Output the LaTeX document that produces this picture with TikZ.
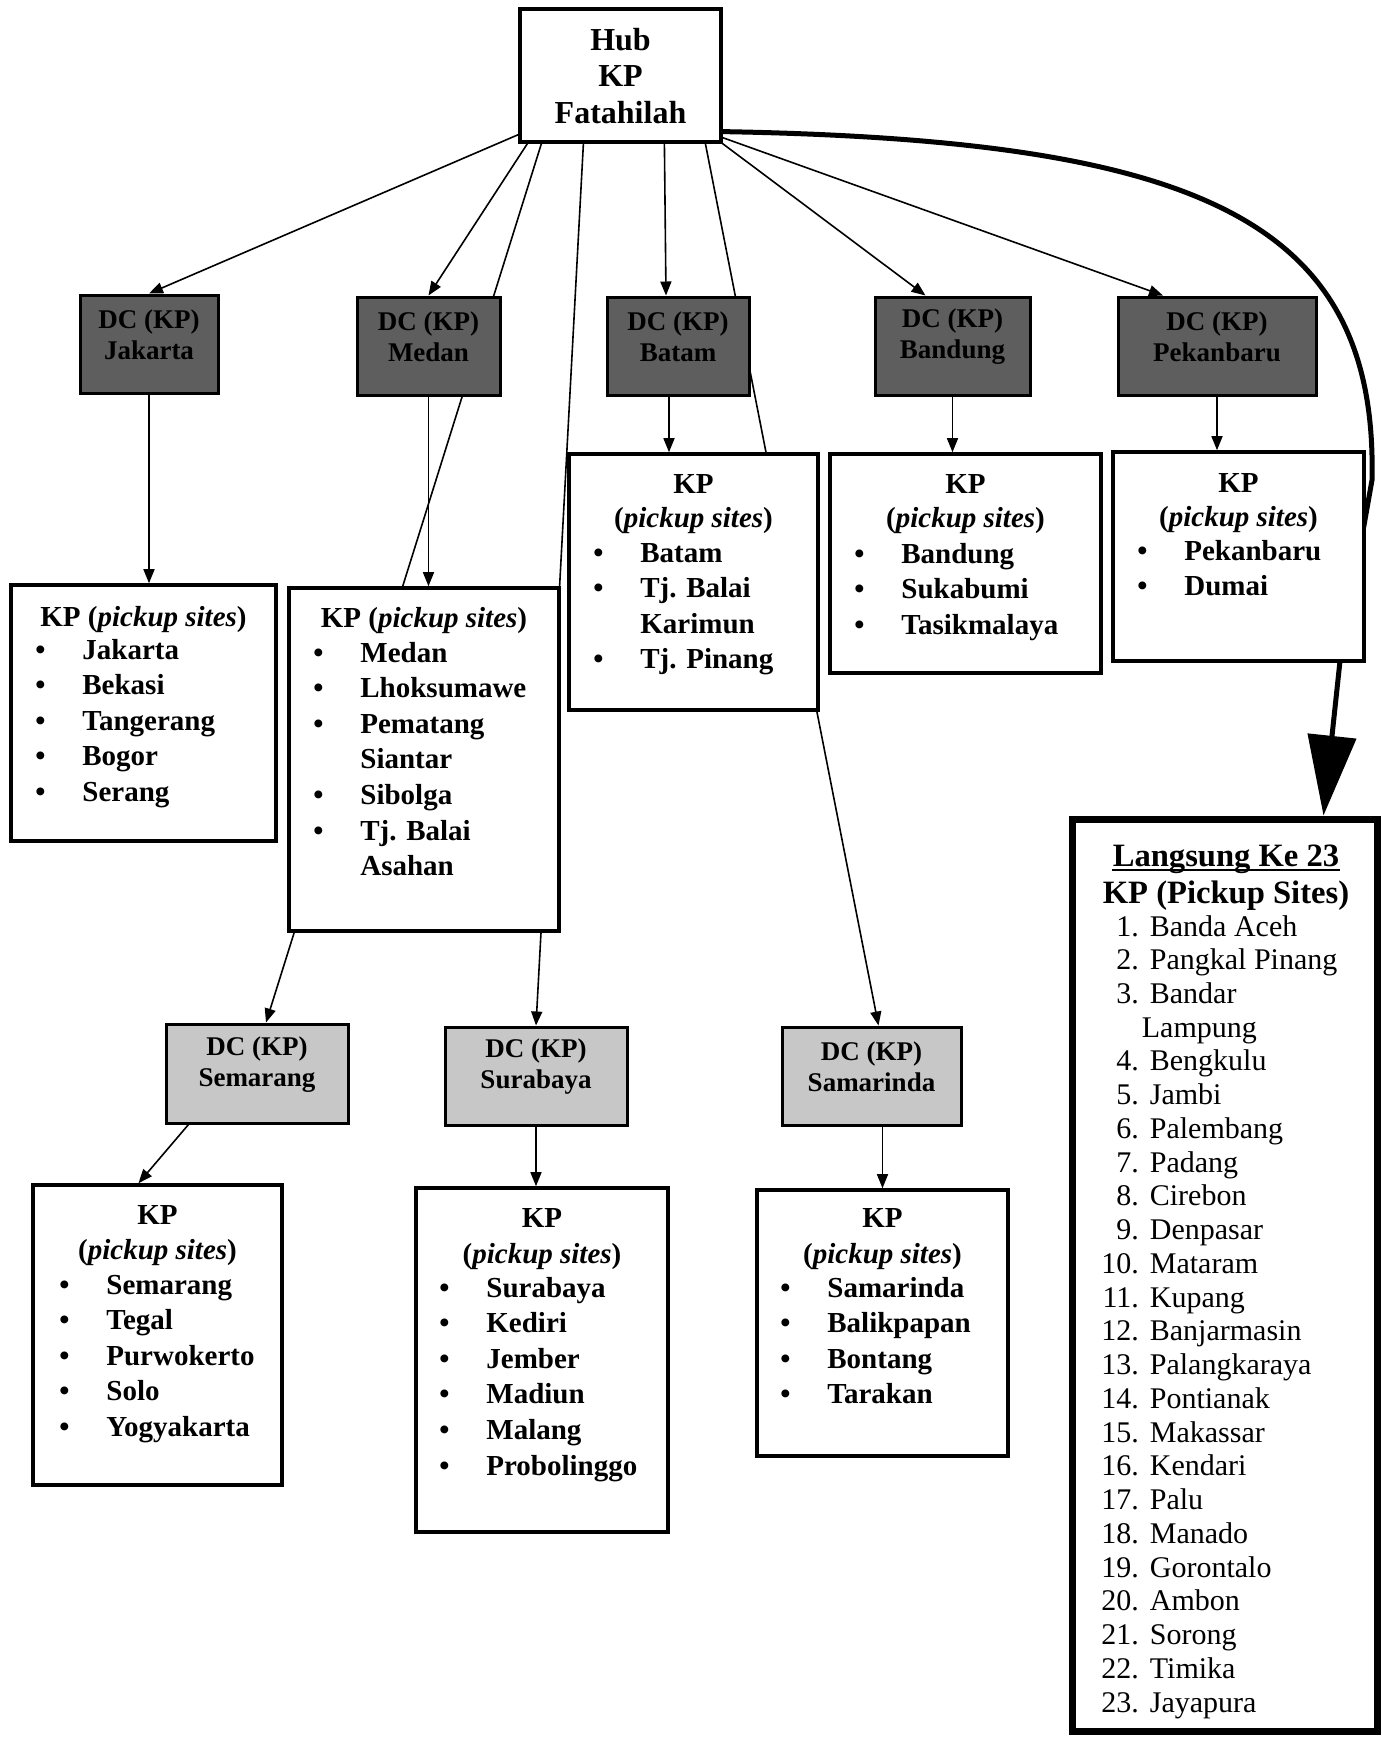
\documentclass[tikz,border=0pt]{standalone}
\usepackage{fontspec}
\setmainfont{Liberation Serif}
\usetikzlibrary{arrows.meta,calc,fit}
\pgfdeclarelayer{background}
\pgfsetlayers{background,main}

% bulleted list of pickup sites: bullet column, then the site name
\newcommand{\sitelist}[1]{\begin{tabular}[t]{@{}p{23.5pt}@{}l@{}}#1\end{tabular}}

\tikzset{
  every node/.style={inner sep=0pt},
  kpframe/.style={draw, line width=1.8pt, fill=white},
  hubbox/.style={draw, line width=1.6pt, fill=white},
  hubtext/.style={anchor=base, font=\fontsize{16}{18.3}\selectfont\bfseries},
  dcbase/.style={draw, line width=1.5pt, align=center,
    font=\fontsize{13.5}{15.5}\selectfont\bfseries},
  dcdark/.style={dcbase, fill=black!63},
  dclight/.style={dcbase, fill=black!22},
  head/.style={anchor=base, font=\fontsize{14.5}{17.8}\selectfont\bfseries},
  sites/.style={anchor=base west, font=\fontsize{14.5}{17.8}\selectfont\bfseries},
  lhead/.style={anchor=base, font=\fontsize{16.3}{18.3}\selectfont\bfseries},
  dlist/.style={anchor=base west, font=\fontsize{15}{16.87}\selectfont},
  conn/.style={line width=0.8pt, -{Triangle[length=7pt,width=5.5pt]}},
  bigflow/.style={line width=2.5pt, -{Triangle[length=40pt,width=24pt]}},
}

\begin{document}
\begin{tikzpicture}[x=0.5pt,y=-0.5pt]
\useasboundingbox (0,0) rectangle (1382,1737);

% ---- hub ----
\node[hubbox, fit={(520,9) (721,142)}] (hub) {};
\node[hubtext] (hub-t) at (620.5,50)
  {\begin{tabular}[t]{@{}c@{}}Hub\\KP\\Fatahilah\end{tabular}};

% ---- distribution centres, first tier ----
\node[dcdark, fit={(80,295) (218,393)}] (dcjkt) {DC (KP)\\Jakarta};
\node[dcdark, fit={(357,297) (500,395)}] (dcmdn) {DC (KP)\\Medan};
\node[dcdark, fit={(607,297) (749,395)}] (dcbtm) {DC (KP)\\Batam};
\node[dcdark, fit={(875,297) (1030,395)}] (dcbdg) {DC (KP)\\Bandung};
\node[dcdark, fit={(1118,297) (1316,395)}] (dcpku) {DC (KP)\\Pekanbaru};

% ---- distribution centres, second tier ----
\node[dclight, fit={(166,1024) (348,1123)}] (dcsmg) {DC (KP)\\Semarang};
\node[dclight, fit={(445,1027) (627,1125)}] (dcsby) {DC (KP)\\Surabaya};
\node[dclight, fit={(782,1027) (961,1125)}] (dcsmr) {DC (KP)\\Samarinda};

% ---- pickup-site boxes ----
\node[kpframe, fit={(11,585) (276,841)}] (kpjkt) {};
\node[head] (kpjkt-h) at (143.5,626) {KP (\textit{pickup sites})};
\node[sites] (kpjkt-l) at (35,659) {\sitelist{%
  \textbullet & Jakarta\\ \textbullet & Bekasi\\ \textbullet & Tangerang\\
  \textbullet & Bogor\\ \textbullet & Serang}};

\node[kpframe, fit={(289,588) (559,931)}] (kpmdn) {};
\node[head] (kpmdn-h) at (424,627) {KP (\textit{pickup sites})};
\node[sites] (kpmdn-l) at (313,662) {\sitelist{%
  \textbullet & Medan\\ \textbullet & Lhoksumawe\\ \textbullet & Pematang\\
  & Siantar\\ \textbullet & Sibolga\\ \textbullet & Tj. Balai\\ & Asahan}};

\node[kpframe, fit={(569,454) (818,710)}] (kpbtm) {};
\node[head] (kpbtm-h1) at (693.5,493) {KP};
\node[head] (kpbtm-h2) at (693.5,527) {(\textit{pickup sites})};
\node[sites] (kpbtm-l) at (593,562) {\sitelist{%
  \textbullet & Batam\\ \textbullet & Tj. Balai\\ & Karimun\\ \textbullet & Tj. Pinang}};

\node[kpframe, fit={(830,454) (1101,673)}] (kpbdg) {};
\node[head] (kpbdg-h1) at (965.5,493) {KP};
\node[head] (kpbdg-h2) at (965.5,527) {(\textit{pickup sites})};
\node[sites] (kpbdg-l) at (854,563) {\sitelist{%
  \textbullet & Bandung\\ \textbullet & Sukabumi\\ \textbullet & Tasikmalaya}};

\node[kpframe, fit={(1113,452) (1364,661)}] (kppku) {};
\node[head] (kppku-h1) at (1238.5,492) {KP};
\node[head] (kppku-h2) at (1238.5,526) {(\textit{pickup sites})};
\node[sites] (kppku-l) at (1137,560) {\sitelist{%
  \textbullet & Pekanbaru\\ \textbullet & Dumai}};

\node[kpframe, fit={(33,1185) (282,1485)}] (kpsmg) {};
\node[head] (kpsmg-h1) at (157.5,1224) {KP};
\node[head] (kpsmg-h2) at (157.5,1259) {(\textit{pickup sites})};
\node[sites] (kpsmg-l) at (59,1294) {\sitelist{%
  \textbullet & Semarang\\ \textbullet & Tegal\\ \textbullet & Purwokerto\\
  \textbullet & Solo\\ \textbullet & Yogyakarta}};

\node[kpframe, fit={(416,1188) (668,1532)}] (kpsby) {};
\node[head] (kpsby-h1) at (542,1227) {KP};
\node[head] (kpsby-h2) at (542,1263) {(\textit{pickup sites})};
\node[sites] (kpsby-l) at (439,1297) {\sitelist{%
  \textbullet & Surabaya\\ \textbullet & Kediri\\ \textbullet & Jember\\
  \textbullet & Madiun\\ \textbullet & Malang\\ \textbullet & Probolinggo}};

\node[kpframe, fit={(757,1190) (1008,1456)}] (kpsmr) {};
\node[head] (kpsmr-h1) at (882.5,1227) {KP};
\node[head] (kpsmr-h2) at (882.5,1263) {(\textit{pickup sites})};
\node[sites] (kpsmr-l) at (780,1297) {\sitelist{%
  \textbullet & Samarinda\\ \textbullet & Balikpapan\\ \textbullet & Bontang\\
  \textbullet & Tarakan}};

% ---- direct delivery to 23 pickup sites ----
\node[kpframe, line width=3.5pt, fit={(1072,819) (1377,1731)}] (direct) {};
\node[lhead] (direct-h1) at (1226,866) {Langsung Ke 23};
\draw[line width=0.9pt] ($(direct-h1.base west)+(0,4)$) -- ($(direct-h1.base east)+(0,4)$);
\node[lhead] (direct-h2) at (1226,903) {KP (Pickup Sites)};
\node[dlist] (direct-l) at (1101,936) {\begin{tabular}[t]{@{}r@{\hspace{5.5pt}}l@{}}
  1. & Banda Aceh\\ 2. & Pangkal Pinang\\ 3. & Bandar\\ & \hspace{-4pt}Lampung\\
  4. & Bengkulu\\ 5. & Jambi\\ 6. & Palembang\\ 7. & Padang\\ 8. & Cirebon\\
  9. & Denpasar\\ 10. & Mataram\\ 11. & Kupang\\ 12. & Banjarmasin\\
  13. & Palangkaraya\\ 14. & Pontianak\\ 15. & Makassar\\ 16. & Kendari\\
  17. & Palu\\ 18. & Manado\\ 19. & Gorontalo\\ 20. & Ambon\\ 21. & Sorong\\
  22. & Timika\\ 23. & Jayapura
\end{tabular}};

% ---- connectors (behind the boxes) ----
\begin{pgfonlayer}{background}
  \draw[conn] ($(hub.south west)+(0,-9)$) -- (dcjkt.north);
  \draw[conn] ($(hub.south west)+(9,0)$) -- (dcmdn.north);
  \draw[conn] ($(hub.south west)+(23,0)$) -- ($(dcsmg.north)+(9,0)$);
  \draw[conn] ($(hub.south west)+(65,0)$) -- (dcsby.north);
  \draw[conn] ($(hub.south west)+(146,0)$) -- ($(dcbtm.north)+(-12,0)$);
  \draw[conn] ($(hub.south west)+(187,0)$) -- ($(dcsmr.north)+(7,0)$);
  \draw[conn] (hub.south east) -- ($(dcbdg.north)+(-27,0)$);
  \draw[conn] ($(hub.south east)+(0,-6)$) -- ($(dcpku.north)+(-54,0)$);
  \draw[bigflow] ($(hub.south east)+(0,-12)$)
    .. controls (1200,140) and (1378,220) .. (1372,480)
    -- (1340,661) -- ($(direct.north)+(99,0)$);

  \coordinate (btdrop) at ($(dcbtm.south)+(-9,0)$);
  \draw[conn] (dcjkt.south) -- (dcjkt.south |- kpjkt.north);
  \draw[conn] (dcmdn.south) -- (dcmdn.south |- kpmdn.north);
  \draw[conn] (btdrop) -- (btdrop |- kpbtm.north);
  \draw[conn] (dcbdg.south) -- (dcbdg.south |- kpbdg.north);
  \draw[conn] (dcpku.south) -- (dcpku.south |- kppku.north);
  \draw[conn] ($(dcsmg.south west)+(24,0)$) -- ($(kpsmg.north)+(-19,0)$);
  \draw[conn] (dcsby.south) -- (dcsby.south |- kpsby.north);
  \draw[conn] (kpsmr.north |- dcsmr.south) -- (kpsmr.north);
\end{pgfonlayer}
\end{tikzpicture}
\end{document}
